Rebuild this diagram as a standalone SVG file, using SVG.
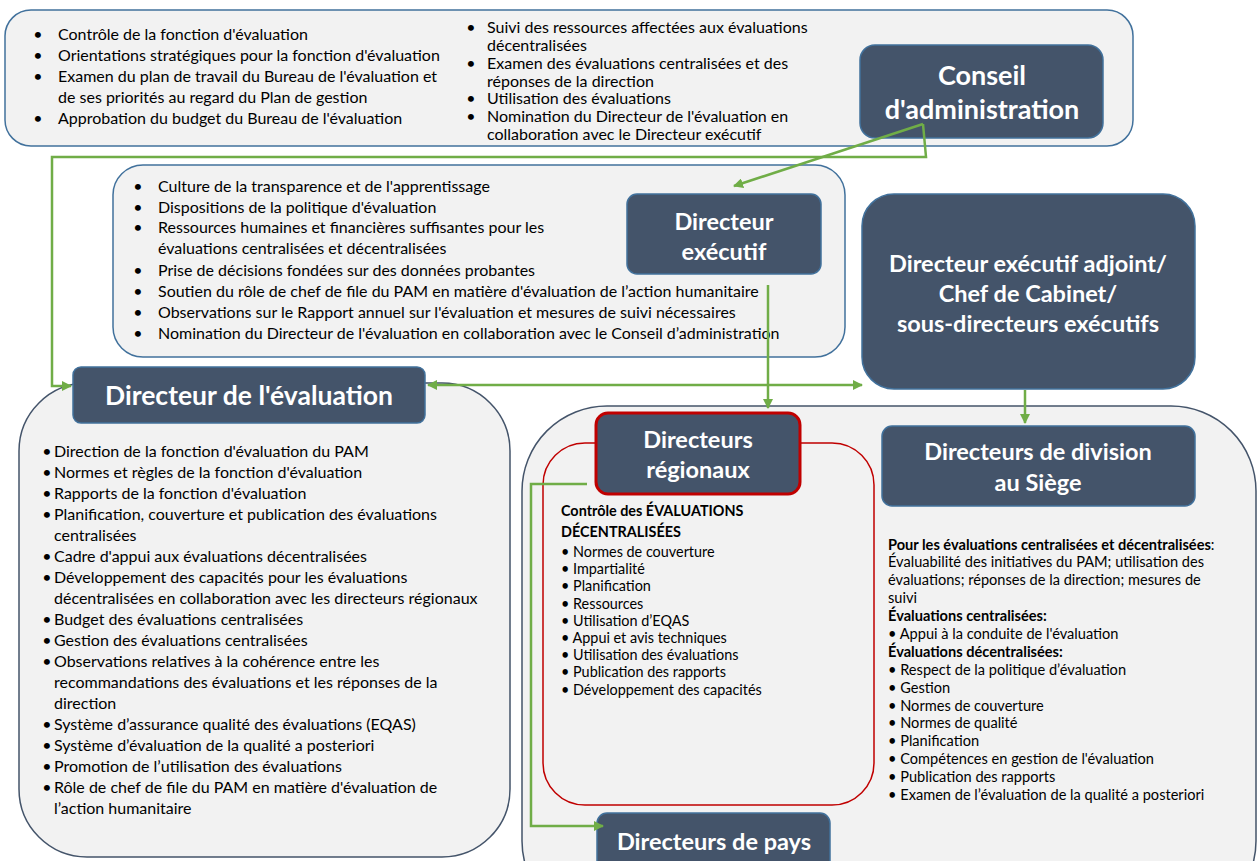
<svg xmlns="http://www.w3.org/2000/svg" width="1258" height="861" viewBox="0 0 1258 861">
<defs>
<style>
.box{fill:#f2f2f2;stroke:#41719c;stroke-width:1.5}
.box2{fill:#f2f2f2;stroke:#44546a;stroke-width:1.5}
.node{fill:#44546a;stroke:#41719c;stroke-width:1.5}
.nt{fill:#fff;font-family:Lato,"Liberation Sans",sans-serif;font-weight:bold;text-anchor:middle;font-size:23.5px}
.t{fill:#000;font-family:Lato,"Liberation Sans",sans-serif;font-size:16px}
.s{font-size:14.4px}
.r{font-size:14.6px}
.b{font-weight:bold}
.conn{stroke:#70ad47;stroke-width:2.5;fill:none}
</style>
<marker id="ah" viewBox="0 0 10 10" refX="9" refY="5" markerWidth="4" markerHeight="4" orient="auto-start-reverse" markerUnits="strokeWidth">
<path d="M0,0 L10,5 L0,10 z" fill="#70ad47"/>
</marker>
</defs>
<rect width="1258" height="861" fill="#fff"/>

<g id="conseil-box">
<rect class="box" x="5" y="10" width="1128" height="136" rx="26"/>
<g class="t">
<text x="38" y="40" text-anchor="middle">•</text><text x="58" y="40">Contrôle de la fonction d'évaluation</text>
<text x="38" y="61" text-anchor="middle">•</text><text x="58" y="61">Orientations stratégiques pour la fonction d'évaluation</text>
<text x="38" y="82" text-anchor="middle">•</text><text x="58" y="82">Examen du plan de travail du Bureau de l'évaluation et</text>
<text x="58" y="103">de ses priorités au regard du Plan de gestion</text>
<text x="38" y="124" text-anchor="middle">•</text><text x="58" y="124">Approbation du budget du Bureau de l'évaluation</text>
<text x="471" y="33" text-anchor="middle">•</text><text x="487" y="33">Suivi des ressources affectées aux évaluations</text>
<text x="487" y="51">décentralisées</text>
<text x="471" y="69" text-anchor="middle">•</text><text x="487" y="69">Examen des évaluations centralisées et des</text>
<text x="487" y="87">réponses de la direction</text>
<text x="471" y="104" text-anchor="middle">•</text><text x="487" y="104">Utilisation des évaluations</text>
<text x="471" y="122" text-anchor="middle">•</text><text x="487" y="122">Nomination du Directeur de l'évaluation en</text>
<text x="487" y="140">collaboration avec le Directeur exécutif</text>
</g>
</g>
<g id="conseil">
<rect class="node" x="860" y="45" width="243" height="93" rx="15"/>
<text class="nt" style="font-size:27px" x="982" y="85">Conseil</text>
<text class="nt" style="font-size:27px" x="982" y="119">d'administration</text>
</g>

<g id="de-box">
<rect class="box" x="113" y="165" width="732" height="192" rx="30"/>
<g class="t">
<text x="138" y="192" text-anchor="middle">•</text><text x="158" y="192">Culture de la transparence et de l'apprentissage</text>
<text x="138" y="213" text-anchor="middle">•</text><text x="158" y="213">Dispositions de la politique d'évaluation</text>
<text x="138" y="233" text-anchor="middle">•</text><text x="158" y="233">Ressources humaines et financières suffisantes pour les</text>
<text x="158" y="254">évaluations centralisées et décentralisées</text>
<text x="138" y="276" text-anchor="middle">•</text><text x="158" y="276">Prise de décisions fondées sur des données probantes</text>
<text x="138" y="297" text-anchor="middle">•</text><text x="158" y="297">Soutien du rôle de chef de file du PAM en matière d'évaluation de l’action humanitaire</text>
<text x="138" y="318" text-anchor="middle">•</text><text x="158" y="318">Observations sur le Rapport annuel sur l'évaluation et mesures de suivi nécessaires</text>
<text x="138" y="339" text-anchor="middle">•</text><text x="158" y="339">Nomination du Directeur de l'évaluation en collaboration avec le Conseil d’administration</text>
</g>
</g>
<g id="de">
<rect class="node" x="627" y="194" width="194" height="80" rx="10"/>
<text class="nt" x="724" y="230">Directeur</text>
<text class="nt" x="724" y="260">exécutif</text>
</g>

<g id="dea">
<rect class="node" x="862" y="194" width="333" height="195" rx="32"/>
<text class="nt" x="1028" y="272">Directeur exécutif adjoint/</text>
<text class="nt" x="1028" y="302">Chef de Cabinet/</text>
<text class="nt" x="1028" y="332">sous-directeurs exécutifs</text>
</g>

<g id="deval-box">
<rect class="box2" x="19" y="383" width="491" height="474" rx="68"/>
<g class="t">
<text x="47" y="457" text-anchor="middle">•</text><text x="54" y="457">Direction de la fonction d'évaluation du PAM</text>
<text x="47" y="478" text-anchor="middle">•</text><text x="54" y="478">Normes et règles de la fonction d'évaluation</text>
<text x="47" y="499" text-anchor="middle">•</text><text x="54" y="499">Rapports de la fonction d'évaluation</text>
<text x="47" y="520" text-anchor="middle">•</text><text x="54" y="520">Planification, couverture et publication des évaluations</text>
<text x="54" y="541">centralisées</text>
<text x="47" y="562" text-anchor="middle">•</text><text x="54" y="562">Cadre d'appui aux évaluations décentralisées</text>
<text x="47" y="583" text-anchor="middle">•</text><text x="54" y="583">Développement des capacités pour les évaluations</text>
<text x="54" y="604">décentralisées en collaboration avec les directeurs régionaux</text>
<text x="47" y="625" text-anchor="middle">•</text><text x="54" y="625">Budget des évaluations centralisées</text>
<text x="47" y="646" text-anchor="middle">•</text><text x="54" y="646">Gestion des évaluations centralisées</text>
<text x="47" y="667" text-anchor="middle">•</text><text x="54" y="667">Observations relatives à la cohérence entre les</text>
<text x="54" y="688">recommandations des évaluations et les réponses de la</text>
<text x="54" y="709">direction</text>
<text x="47" y="730" text-anchor="middle">•</text><text x="54" y="730">Système d’assurance qualité des évaluations (EQAS)</text>
<text x="47" y="751" text-anchor="middle">•</text><text x="54" y="751">Système d’évaluation de la qualité a posteriori</text>
<text x="47" y="772" text-anchor="middle">•</text><text x="54" y="772">Promotion de l’utilisation des évaluations</text>
<text x="47" y="793" text-anchor="middle">•</text><text x="54" y="793">Rôle de chef de file du PAM en matière d'évaluation de</text>
<text x="54" y="814">l’action humanitaire</text>
</g>
</g>
<g id="deval">
<rect class="node" x="73" y="367" width="352" height="56" rx="8"/>
<text class="nt" style="font-size:26.5px" x="249" y="405">Directeur de l'évaluation</text>
</g>

<g id="field-box">
<rect class="box2" x="522" y="406" width="734" height="520" rx="85"/>
<rect x="543" y="443" width="331" height="362" rx="42" fill="none" stroke="#c00000" stroke-width="1.5"/>
<g class="t s">
<text class="b" x="561" y="516">Contrôle des ÉVALUATIONS</text>
<text class="b" x="561" y="537">DÉCENTRALISÉES</text>
<text x="561" y="557">• Normes de couverture</text>
<text x="561" y="574">• Impartialité</text>
<text x="561" y="591">• Planification</text>
<text x="561" y="609">• Ressources</text>
<text x="561" y="626">• Utilisation d’EQAS</text>
<text x="561" y="643">• Appui et avis techniques</text>
<text x="561" y="660">• Utilisation des évaluations</text>
<text x="561" y="677">• Publication des rapports</text>
<text x="561" y="695">• Développement des capacités</text>
</g>
<g class="t r">
<text x="888" y="550"><tspan font-weight="bold">Pour les évaluations centralisées et décentralisées</tspan>:</text>
<text x="888" y="567">Évaluabilité des initiatives du PAM; utilisation des</text>
<text x="888" y="585">évaluations; réponses de la direction; mesures de</text>
<text x="888" y="603">suivi</text>
<text class="b" x="888" y="621">Évaluations centralisées:</text>
<text x="888" y="639">• Appui à la conduite de l'évaluation</text>
<text class="b" x="888" y="657">Évaluations décentralisées:</text>
<text x="888" y="675">• Respect de la politique d’évaluation</text>
<text x="888" y="693">• Gestion</text>
<text x="888" y="711">• Normes de couverture</text>
<text x="888" y="728">• Normes de qualité</text>
<text x="888" y="746">• Planification</text>
<text x="888" y="764">• Compétences en gestion de l'évaluation</text>
<text x="888" y="782">• Publication des rapports</text>
<text x="888" y="800">• Examen de l’évaluation de la qualité a posteriori</text>
</g>
</g>
<g id="dr">
<rect x="596" y="413" width="204" height="81" rx="12" fill="#44546a" stroke="#c00000" stroke-width="3"/>
<text class="nt" x="698" y="448">Directeurs</text>
<text class="nt" x="698" y="478">régionaux</text>
</g>
<g id="dhq">
<rect class="node" x="882" y="426" width="313" height="80" rx="10"/>
<text class="nt" x="1038" y="460">Directeurs de division</text>
<text class="nt" x="1038" y="491">au Siège</text>
</g>
<g id="dp">
<rect class="node" x="597" y="813" width="233" height="70" rx="10"/>
<text class="nt" x="714" y="850">Directeurs de pays</text>
</g>

<g id="connectors">
<path class="conn" d="M923,124 L926,157 L52,157 L52,386 L71,386" marker-end="url(#ah)"/>
<path class="conn" d="M923,124 L734,186" marker-end="url(#ah)"/>
<path class="conn" d="M768,285 L768,408" marker-end="url(#ah)"/>
<path class="conn" d="M428,385 L862,385" marker-start="url(#ah)" marker-end="url(#ah)"/>
<path class="conn" d="M1025,390 L1025,423" marker-end="url(#ah)"/>
<path class="conn" d="M587,484 L531,484 L531,826 L603,826" marker-end="url(#ah)"/>
</g>
</svg>
